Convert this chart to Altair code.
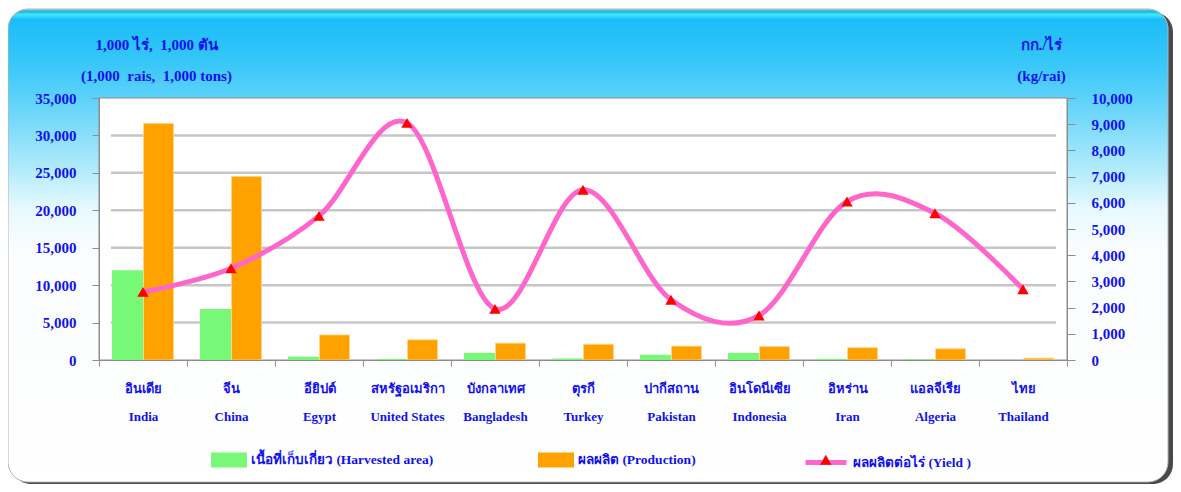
import altair as alt
import pandas as pd

# ---------------- data ----------------
thai_names = ["อินเดีย", "จีน", "อียิปต์", "สหรัฐอเมริกา", "บังกลาเทศ", "ตุรกี",
              "ปากีสถาน", "อินโดนีเซีย", "อิหร่าน", "แอลจีเรีย", "ไทย"]
english_names = ["India", "China", "Egypt", "United States", "Bangladesh", "Turkey",
                 "Pakistan", "Indonesia", "Iran", "Algeria", "Thailand"]
harvested_area = [12000, 6800, 450, 150, 950, 200, 700, 950, 150, 100, 10]     # 1,000 rai
production = [31600, 24500, 3350, 2700, 2250, 2100, 1850, 1800, 1650, 1500, 250]  # 1,000 tons
yield_per_rai = [2600, 3500, 5500, 9050, 1950, 6500, 2300, 1700, 6050, 5600, 2700]  # kg/rai
grid_values = [5000, 10000, 15000, 20000, 25000, 30000]
left_ticks = [0, 5000, 10000, 15000, 20000, 25000, 30000, 35000]
right_ticks = [0, 1000, 2000, 3000, 4000, 5000, 6000, 7000, 8000, 9000, 10000]

NB = "\u00a0"
lab_area = "เนื้อที่เก็บเกี่ยว (Harvested area)"
lab_prod = "ผลผลิต (Production)"
lab_yield = "ผลผลิตต่อไร่ (Yield )"
left_title = ["1,000 ไร่," + NB + NB + "1,000 ตัน",
              "(1,000" + NB + NB + "rais," + NB + NB + "1,000 tons)"]
right_title = ["กก./ไร่", "(kg/rai)"]

df = pd.DataFrame({
    "label": [t + "|" + e for t, e in zip(thai_names, english_names)],
    "area": harvested_area,
    "production": production,
    "yield": yield_per_rai,
    "s_area": lab_area,
    "s_prod": lab_prod,
    "s_yield": lab_yield,
})

# ---------------- styles ----------------
W, H = 968, 262
FONT = "Liberation Serif"
BLUE = "#1111ee"
GREEN = "#77f977"
ORANGE = "#ffa200"
PINK = "#ff66cc"
RED = "#ff0000"
AXGRAY = "#8c8c8c"

x_enc = alt.X(
    "label:N", sort=None,
    scale=alt.Scale(paddingInner=0, paddingOuter=0),
    axis=alt.Axis(
        title=None, labelExpr="datum.value ? split(datum.value, '|') : ''", labelAngle=0,
        labelFont=FONT, labelFontSize=13, labelFontWeight="bold", labelColor=BLUE,
        labelLineHeight=28, labelPadding=16, labelBaseline="top",
        tickBand="extent", tickSize=6, tickColor=AXGRAY, domainColor=AXGRAY,
        grid=False, zindex=1,
    ),
)

left_scale = alt.Scale(domain=[0, 35000], nice=False)
left_axis = alt.Axis(
    values=left_ticks, format=",d", grid=False, orient="left",
    labelFont=FONT, labelFontSize=15, labelFontWeight="bold", labelColor=BLUE,
    tickSize=7, labelPadding=16, tickColor=AXGRAY, domainColor=AXGRAY,
    title=left_title, titleAngle=0, titleAlign="center", titleBaseline="alphabetic",
    titleX=57, titleY=-49, titleLineHeight=31, titleFont=FONT, titleFontSize=15,
    titleFontWeight="bold", titleColor=BLUE, zindex=1,
)
right_scale = alt.Scale(domain=[0, 10000], nice=False)
right_axis = alt.Axis(
    values=right_ticks, format=",d", grid=False, orient="right",
    labelFont=FONT, labelFontSize=15, labelFontWeight="bold", labelColor=BLUE,
    tickSize=8, labelPadding=16, tickColor=AXGRAY, domainColor=AXGRAY,
    title=right_title, titleAngle=0, titleAlign="center", titleBaseline="alphabetic",
    titleX=-26, titleY=-49, titleLineHeight=31, titleFont=FONT, titleFontSize=15,
    titleFontWeight="bold", titleColor=BLUE, zindex=1,
)


def legend(x, y, **kw):
    return alt.Legend(
        orient="none", legendX=x, legendY=y, title=None, padding=0,
        labelFont=FONT, labelFontSize=13.5, labelFontWeight="bold", labelColor=BLUE,
        labelOffset=4, labelLimit=400, **kw,
    )


one = pd.DataFrame({"a": [0]})

# decorative panel
shadow = alt.Chart(one).mark_rect(cornerRadius=20, fill="#4a4a4a").encode(
    x=alt.value(-88), x2=alt.value(1074), y=alt.value(-86), y2=alt.value(386))
panel = alt.Chart(one).mark_rect(
    cornerRadius=20, stroke="#b4b4b4", strokeWidth=1,
    fill=alt.Gradient(
        gradient="linear", x1=0, x2=0, y1=0, y2=1,
        stops=[
            alt.GradientStop(offset=0.0, color="#86dcf0"),
            alt.GradientStop(offset=0.005, color="#29afda"),
            alt.GradientStop(offset=0.012, color="#3ee8ff"),
            alt.GradientStop(offset=0.022, color="#1bbdf8"),
            alt.GradientStop(offset=0.107, color="#35c6f8"),
            alt.GradientStop(offset=0.19, color="#5dd2fa"),
            alt.GradientStop(offset=0.345, color="#b5ecfb"),
            alt.GradientStop(offset=0.42, color="#e6f9fe"),
            alt.GradientStop(offset=0.51, color="#fafcfd"),
            alt.GradientStop(offset=1.0, color="#ffffff"),
        ],
    ),
).encode(x=alt.value(-91), x2=alt.value(1069), y=alt.value(-89), y2=alt.value(384))
plot_bg = alt.Chart(one).mark_rect(fill="white", stroke=AXGRAY, strokeWidth=1).encode(
    x=alt.value(0), x2=alt.value(W), y=alt.value(0), y2=alt.value(H))

grid = alt.Chart(pd.DataFrame({"g": grid_values})).mark_rule(
    color="#c6c6c6", strokeWidth=2.5).encode(
    y=alt.Y("g:Q", scale=left_scale, axis=left_axis),
    x=alt.value(12), x2=alt.value(957))

bars_area = alt.Chart(df).mark_bar(width=31, xOffset=-15.5).encode(
    x=x_enc,
    y=alt.Y("area:Q", scale=left_scale, axis=left_axis),
    color=alt.Color("s_area:N", scale=alt.Scale(domain=[lab_area], range=[GREEN]),
                    legend=legend(112, 344, symbolType="M-1,-0.42H1V0.42H-1Z",
                                  symbolSize=1296, symbolStrokeWidth=0, symbolOpacity=1)),
)
bars_prod = alt.Chart(df).mark_bar(width=30, xOffset=15.5, stroke="#ffd58a", strokeWidth=0.8).encode(
    x=x_enc,
    y=alt.Y("production:Q", scale=left_scale, axis=left_axis),
    color=alt.Color("s_prod:N", scale=alt.Scale(domain=[lab_prod], range=[ORANGE]),
                    legend=legend(439, 344, symbolType="M-1,-0.42H1V0.42H-1Z",
                                  symbolSize=1296, symbolStrokeWidth=0, symbolOpacity=1)),
)
left_layer = alt.layer(grid, bars_area, bars_prod).resolve_scale(color="independent")

line = alt.Chart(df).mark_line(interpolate="cardinal", strokeWidth=5).encode(
    x=x_enc,
    y=alt.Y("yield:Q", scale=right_scale, axis=right_axis),
    color=alt.Color("s_yield:N", scale=alt.Scale(domain=[lab_yield], range=[PINK]),
                    legend=legend(704, 341.5, symbolType="stroke", symbolSize=1681,
                                  symbolStrokeWidth=5)),
)
points = alt.Chart(df).mark_point(shape="triangle-up", filled=True, size=130, opacity=1).encode(
    x=x_enc,
    y=alt.Y("yield:Q", scale=right_scale, axis=right_axis),
    color=alt.Color("s_yield:N", scale=alt.Scale(domain=[lab_yield], range=[RED]),
                    legend=legend(720, 355, symbolType="triangle-up", symbolSize=130,
                                  labelExpr="''", symbolOpacity=1)),
)
right_layer = alt.layer(line, points).resolve_scale(color="independent")

chart = alt.layer(shadow, panel, plot_bg, left_layer, right_layer).resolve_scale(
    y="independent", color="independent"
).properties(
    width=W, height=H,
    padding={"left": 91, "top": 90, "right": 106, "bottom": 124},
    autosize=alt.AutoSizeParams(type="none"),
    background="white",
).configure_view(stroke=None)

chart.save("out.html", embed_options={"renderer": "svg", "actions": False})
